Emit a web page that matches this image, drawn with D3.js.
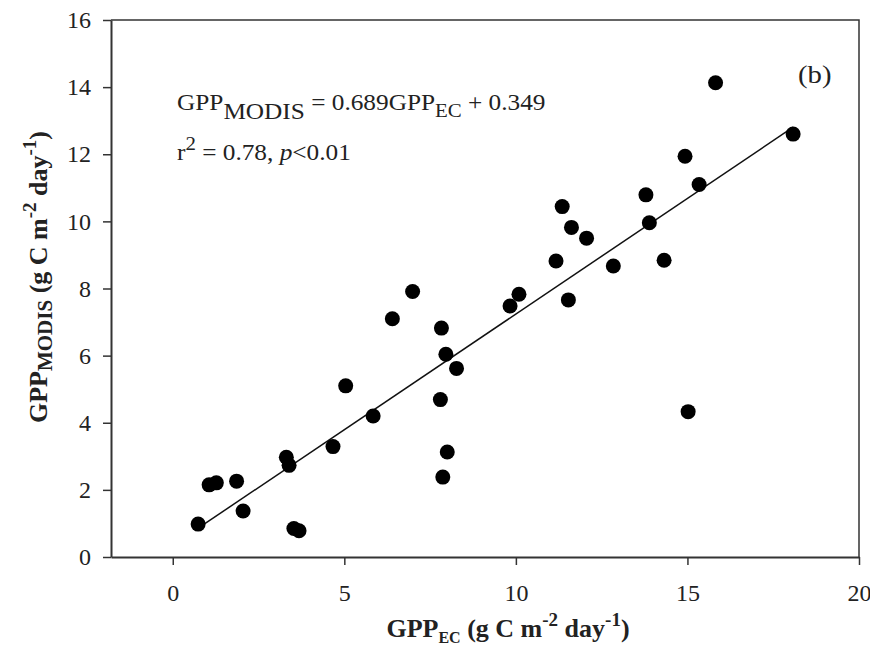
<!DOCTYPE html>
<html>
<head>
<meta charset="utf-8">
<script src="https://cdn.jsdelivr.net/npm/d3@7"></script>
<style>
  body { margin: 0; background: #fff; }
  text { font-family: "Liberation Serif", "Times New Roman", serif; fill: #222; }
</style>
</head>
<body>
<div id="chart"></div>
<script>
// GPP from eddy covariance (x) vs GPP from MODIS (y)
const gppEC = [0.74, 1.06, 1.27, 1.86, 2.05, 3.31, 3.39, 3.53, 3.68, 4.67, 5.04, 5.84,
  6.40, 6.99, 7.80, 7.83, 7.87, 7.96, 8.00, 8.27, 9.83, 10.09, 11.17, 11.35, 11.53,
  11.62, 12.06, 12.84, 13.79, 13.89, 14.32, 14.93, 15.02, 15.34, 15.82, 18.08];
const gppMODIS = [0.98, 2.15, 2.21, 2.26, 1.37, 2.97, 2.73, 0.85, 0.78, 3.29, 5.10, 4.20,
  7.10, 7.91, 4.69, 6.82, 2.38, 6.04, 3.13, 5.62, 7.48, 7.83, 8.82, 10.44, 7.66,
  9.82, 9.50, 8.67, 10.79, 9.96, 8.84, 11.94, 4.33, 11.10, 14.13, 12.60];
const xTicks = [0, 5, 10, 15, 20];
const yTicks = [0, 2, 4, 6, 8, 10, 12, 14, 16];
const slope = 0.689, intercept = 0.349;

const width = 870, height = 650;
const margin = { top: 20, right: 11, bottom: 93, left: 111 };

const svg = d3.select('#chart').append('svg')
  .attr('width', width).attr('height', height);

const x = d3.scaleLinear().domain([-1.8, 20]).range([margin.left, width - margin.right]);
const y = d3.scaleLinear().domain([0, 16]).range([height - margin.bottom, margin.top]);

// frame (top + right)
svg.append('path')
  .attr('d', `M${x(-1.8)},${y(16)}H${x(20)}V${y(0)}`)
  .attr('fill', 'none').attr('stroke', '#333').attr('stroke-width', 1.5);

const xAxis = svg.append('g')
  .attr('transform', `translate(0, ${y(0)})`)
  .call(d3.axisBottom(x).tickValues(xTicks).tickSize(8).tickPadding(19).tickSizeOuter(0));
const yAxis = svg.append('g')
  .attr('transform', `translate(${x(-1.8)}, 0)`)
  .call(d3.axisLeft(y).tickValues(yTicks).tickSize(8).tickPadding(12).tickSizeOuter(0));

[xAxis, yAxis].forEach(g => {
  g.select('.domain').attr('stroke', '#333').attr('stroke-width', 2);
  g.selectAll('.tick line').attr('stroke', '#333').attr('stroke-width', 1.5);
  g.selectAll('.tick text').style('font-family', '"Liberation Serif", serif')
    .style('font-size', '24px').attr('fill', '#222');
});

// regression line over the data range
const xr = d3.extent(gppEC);
svg.append('line')
  .attr('x1', x(xr[0])).attr('y1', y(slope * xr[0] + intercept))
  .attr('x2', x(xr[1])).attr('y2', y(slope * xr[1] + intercept))
  .attr('stroke', '#111').attr('stroke-width', 1.5);

svg.append('g').selectAll('circle')
  .data(gppEC.map((d, i) => [d, gppMODIS[i]]))
  .enter().append('circle')
  .attr('cx', d => x(d[0]))
  .attr('cy', d => y(d[1]))
  .attr('r', 7.5)
  .attr('fill', '#000');

// equation
const eq = svg.append('text').attr('transform', 'translate(177, 110) scale(1.1, 1)')
  .style('font-size', '23px');
eq.append('tspan').text('GPP');
eq.append('tspan').attr('dy', 9).text('MODIS');
eq.append('tspan').attr('dy', -9).text(' = 0.689GPP');
eq.append('tspan').attr('dy', 7).style('font-size', '19px').text('EC');
eq.append('tspan').attr('dy', -7).text(' + 0.349');

const r2 = svg.append('text').attr('transform', 'translate(177, 160) scale(1.1, 1)')
  .style('font-size', '23px');
r2.append('tspan').text('r');
r2.append('tspan').attr('dy', -10).style('font-size', '19px').text('2');
r2.append('tspan').attr('dy', 10).text(' = 0.78, ');
r2.append('tspan').style('font-style', 'italic').text('p');
r2.append('tspan').text('<0.01');

svg.append('text').attr('transform', 'translate(798, 83) scale(1.15, 1)')
  .style('font-size', '25px').text('(b)');

// x label
const xl = svg.append('text').attr('x', 508).attr('y', 637)
  .attr('text-anchor', 'middle').style('font-size', '26px').style('font-weight', 'bold');
xl.append('tspan').text('GPP');
xl.append('tspan').attr('dy', 6).style('font-size', '16px').text('EC');
xl.append('tspan').attr('dy', -6).text(' (g C m');
xl.append('tspan').attr('dy', -11).style('font-size', '19px').text('-2');
xl.append('tspan').attr('dy', 11).text(' day');
xl.append('tspan').attr('dy', -11).style('font-size', '19px').text('-1');
xl.append('tspan').attr('dy', 11).text(')');

// y label
const yl = svg.append('text')
  .attr('transform', 'translate(47, 277) rotate(-90)')
  .attr('text-anchor', 'middle').style('font-size', '26px').style('font-weight', 'bold');
yl.append('tspan').text('GPP');
yl.append('tspan').attr('dy', 5).style('font-size', '21px').text('MODIS');
yl.append('tspan').attr('dy', -5).text(' (g C m');
yl.append('tspan').attr('dy', -11).style('font-size', '19px').text('-2');
yl.append('tspan').attr('dy', 11).text(' day');
yl.append('tspan').attr('dy', -11).style('font-size', '19px').text('-1');
yl.append('tspan').attr('dy', 11).text(')');
</script>
</body>
</html>
